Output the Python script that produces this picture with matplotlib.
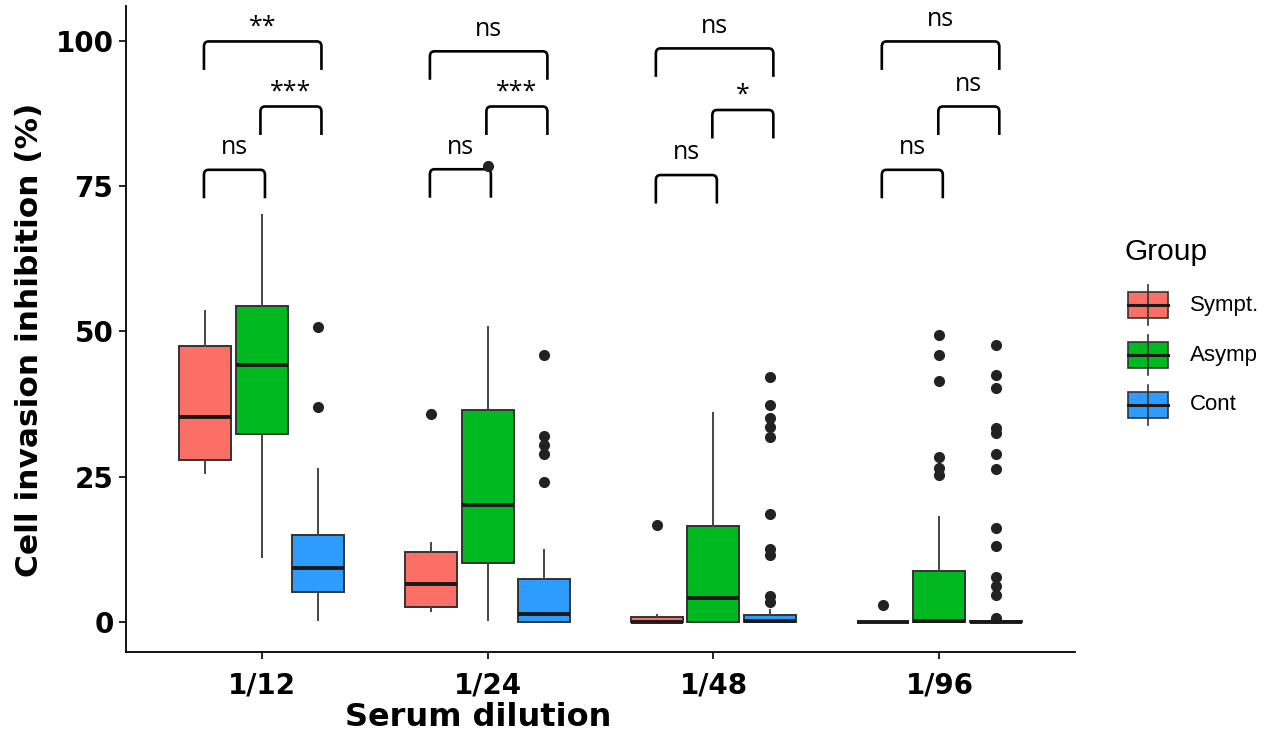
import matplotlib
matplotlib.use("Agg")
import matplotlib.pyplot as plt
from matplotlib.path import Path
from matplotlib.patches import PathPatch, Rectangle

# dilutions and groups
dilutions = ["1/12", "1/24", "1/48", "1/96"]
groups = ["Sympt.", "Asymp", "Cont"]
colors = ["#FB6F66", "#00B820", "#2E9CFF"]

# box stats, one row per dilution, one column per group
q1 = [[27.9, 32.4, 5.2], [2.6, 10.2, 0.0], [0.0, 0.0, 0.0], [0.0, 0.0, 0.0]]
med = [[35.3, 44.2, 9.2], [6.5, 20.1, 1.4], [0.0, 4.1, 0.2], [0.0, 0.2, 0.0]]
q3 = [[47.4, 54.4, 15.0], [12.0, 36.5, 7.3], [0.8, 16.5, 1.1], [0.0, 8.7, 0.2]]
whislo = [[25.6, 11.2, 0.3], [1.8, 0.3, 0.0], [0.0, 0.0, 0.0], [0.0, 0.0, 0.0]]
whishi = [[53.5, 70.0, 26.3], [13.6, 50.8, 12.4], [1.2, 35.9, 2.0], [0.0, 18.1, 0.3]]
fliers = [
    [[], [], [50.8, 36.9]],
    [[35.8], [78.4], [46.0, 32.0, 30.5, 28.9, 24.0]],
    [[16.6], [], [42.1, 37.3, 35.1, 33.5, 31.8, 18.5, 12.6, 11.5, 4.4, 3.4]],
    [[2.9], [49.4, 46.0, 41.4, 28.3, 26.4, 25.3],
     [47.7, 42.5, 40.2, 33.3, 32.5, 28.9, 26.3, 16.1, 13.1, 7.7, 6.1, 4.6, 0.6]],
]

# significance brackets: (dilution index, group a, group b, height, label)
brackets = [
    (0, 0, 1, 77.8, "ns"), (0, 1, 2, 88.7, "***"), (0, 0, 2, 99.9, "**"),
    (1, 0, 1, 77.9, "ns"), (1, 1, 2, 88.7, "***"), (1, 0, 2, 98.2, "ns"),
    (2, 0, 1, 76.9, "ns"), (2, 1, 2, 88.1, "*"), (2, 0, 2, 98.7, "ns"),
    (3, 0, 1, 77.8, "ns"), (3, 1, 2, 88.7, "ns"), (3, 0, 2, 99.9, "ns"),
]

offsets = [-0.25, 0.0, 0.25]

fig = plt.figure(figsize=(12.81, 7.40), dpi=100)
ax = fig.add_axes([126 / 1281, 88 / 740, 949 / 1281, 646 / 740])

for i in range(len(dilutions)):
    for g in range(len(groups)):
        st = dict(med=med[i][g], q1=q1[i][g], q3=q3[i][g],
                  whislo=whislo[i][g], whishi=whishi[i][g], fliers=fliers[i][g])
        ax.bxp([st], positions=[i + 1 + offsets[g]], widths=0.23,
               patch_artist=True, showcaps=False,
               boxprops=dict(facecolor=colors[g], edgecolor="#333333", linewidth=1.4),
               medianprops=dict(color="#1a1a1a", linewidth=2.8),
               whiskerprops=dict(color="#444444", linewidth=1.4),
               flierprops=dict(marker="o", markersize=7, markerfacecolor="#222222",
                               markeredgecolor="#222222"))

# brackets
drop = 4.9
rx, ry = 0.02, 0.9
for i, a, b, h, lab in brackets:
    x0 = i + 1 + offsets[a] - 0.005
    x1 = i + 1 + offsets[b] + 0.015
    verts = [(x0, h - drop), (x0, h - ry), (x0, h), (x0 + rx, h),
             (x1 - rx, h), (x1, h), (x1, h - ry), (x1, h - drop)]
    codes = [Path.MOVETO, Path.LINETO, Path.CURVE3, Path.CURVE3,
             Path.LINETO, Path.CURVE3, Path.CURVE3, Path.LINETO]
    ax.add_patch(PathPatch(Path(verts, codes), fill=False, edgecolor="black",
                           linewidth=1.9, clip_on=False))
    dy = 2.5 if "*" in lab else 3.8
    ax.text((x0 + x1) / 2, h + dy, lab, ha="center", va="center",
            fontsize=18, family="Open Sans", clip_on=False)

ax.set_xlim(0.4, 4.6)
ax.set_ylim(-5.2, 106)
ax.set_xticks(range(1, len(dilutions) + 1))
ax.set_xticklabels(dilutions)
ax.set_yticks([0, 25, 50, 75, 100])
for s in ["top", "right"]:
    ax.spines[s].set_visible(False)
for s in ["left", "bottom"]:
    ax.spines[s].set_linewidth(1.3)
ax.tick_params(axis="both", length=5, width=1.2, labelsize=20)
ax.tick_params(axis="x", pad=9)
ax.tick_params(axis="y", pad=4)
for t in ax.get_xticklabels() + ax.get_yticklabels():
    t.set_fontweight("bold")

fig.text(30 / 1281, 1 - 340 / 740, "Cell invasion inhibition (%)", rotation=90,
         ha="center", va="center", fontsize=22.5, fontweight="bold")
fig.text(478 / 1281, 1 - 718 / 740, "Serum dilution", ha="center", va="center",
         fontsize=23, fontweight="bold")

# legend drawn in pixel units
lg = fig.add_axes([1080 / 1281, (740 - 440) / 740, 200 / 1281, 220 / 740])
lg.set_xlim(1080, 1280)
lg.set_ylim(440, 220)
lg.axis("off")
lg.text(1124, 252, "Group", ha="left", va="center", fontsize=21.5,
        family="Liberation Sans")
for g in range(len(groups)):
    c = 305 + 50 * g
    lg.plot([1148, 1148], [c - 20, c + 20], color="#333333", lw=1.2)
    lg.add_patch(Rectangle((1128, c - 13), 40, 26, facecolor=colors[g],
                           edgecolor="#333333", lw=1.2))
    lg.plot([1128, 1168], [c, c], color="#1a1a1a", lw=2.2)
    lg.text(1190, c, groups[g], ha="left", va="center", fontsize=16,
            family="Liberation Sans")

fig.savefig("out.png", dpi=100)
